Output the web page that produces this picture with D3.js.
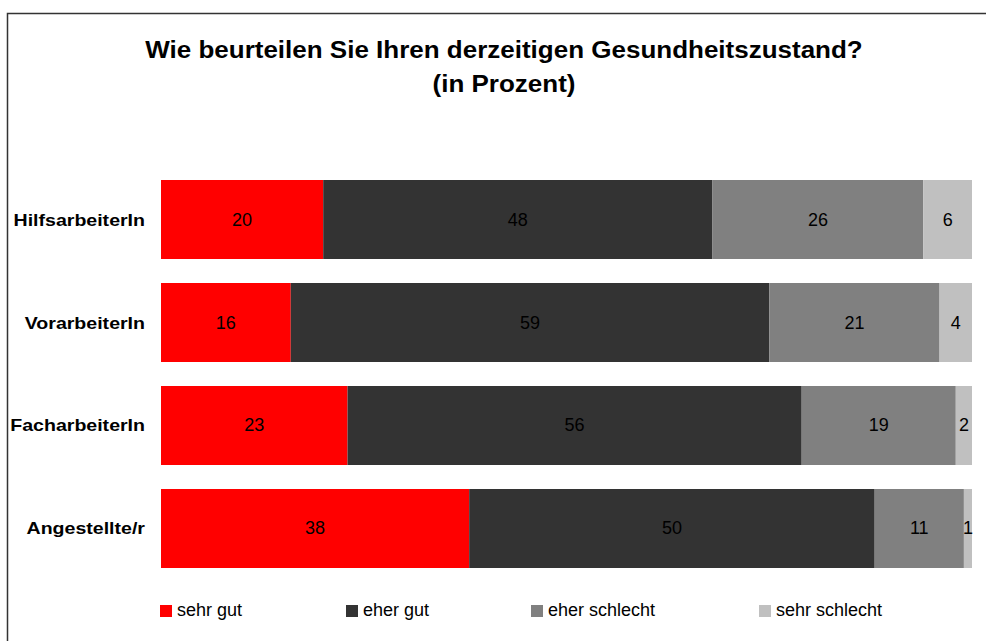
<!DOCTYPE html>
<html>
<head>
<meta charset="utf-8">
<script src="https://cdnjs.cloudflare.com/ajax/libs/d3/7.8.5/d3.min.js"></script>
<style>
  html, body { margin: 0; padding: 0; background: #fff; }
  svg { display: block; font-family: "Liberation Sans", Arial, sans-serif; }
</style>
</head>
<body>
<div id="chart"></div>
<script>
// Daten
const groups = ["HilfsarbeiterIn", "VorarbeiterIn", "FacharbeiterIn", "Angestellte/r"];
const seriesNames = ["sehr gut", "eher gut", "eher schlecht", "sehr schlecht"];
const sehrGut = [20, 16, 23, 38];
const eherGut = [48, 59, 56, 50];
const eherSchlecht = [26, 21, 19, 11];
const sehrSchlecht = [6, 4, 2, 1];
const colors = ["#ff0000", "#333333", "#808080", "#c0c0c0"];

const width = 986, height = 641;

const svg = d3.select("#chart").append("svg")
    .attr("width", width)
    .attr("height", height);

// Text etwas breiter ziehen (Vorlage ist horizontal gestreckt)
function stretch(sel, factor) {
    sel.each(function () {
        const len = this.getComputedTextLength();
        d3.select(this)
            .attr("textLength", len * factor)
            .attr("lengthAdjust", "spacingAndGlyphs");
    });
}

// Rahmen (rechts/unten außerhalb des Bildes)
svg.append("rect")
    .attr("x", 7.5).attr("y", 13.5)
    .attr("width", 1200).attr("height", 800)
    .attr("fill", "none")
    .attr("stroke", "#333")
    .attr("stroke-width", 1.5);

// Titel
const titleLines = ["Wie beurteilen Sie Ihren derzeitigen Gesundheitszustand?", "(in Prozent)"];
const titleText = svg.selectAll("text.title")
    .data(titleLines)
    .join("text")
    .attr("class", "title")
    .attr("x", 504)
    .attr("y", (d, i) => 58 + i * 34)
    .attr("text-anchor", "middle")
    .style("font-size", "23px")
    .style("font-weight", "bold")
    .text(d => d);
stretch(titleText, 1.13);

// Tabelle für stack
const table = groups.map((g, i) => ({
    group: g,
    "sehr gut": sehrGut[i],
    "eher gut": eherGut[i],
    "eher schlecht": eherSchlecht[i],
    "sehr schlecht": sehrSchlecht[i]
}));
const stacked = d3.stack().keys(seriesNames)(table);

const x = d3.scaleLinear().domain([0, 100]).range([161, 972]);
const y = d3.scaleBand().domain(groups).range([180, 568]).paddingInner(0.233).paddingOuter(0);
const color = d3.scaleOrdinal().domain(seriesNames).range(colors);

const layers = svg.selectAll("g.layer")
    .data(stacked)
    .join("g")
    .attr("class", "layer")
    .attr("fill", d => color(d.key));

layers.selectAll("rect")
    .data(d => d)
    .join("rect")
    .attr("x", d => x(d[0]))
    .attr("y", d => y(d.data.group))
    .attr("width", d => x(d[1]) - x(d[0]))
    .attr("height", y.bandwidth());

// Werte in den Balken
layers.selectAll("text")
    .data(d => d)
    .join("text")
    .attr("x", d => (x(d[0]) + x(d[1])) / 2)
    .attr("y", d => y(d.data.group) + y.bandwidth() / 2 + 6)
    .attr("text-anchor", "middle")
    .attr("fill", "#000")
    .style("font-size", "18px")
    .text(d => d[1] - d[0]);

// Kategorien links
const cats = svg.selectAll("text.cat")
    .data(groups)
    .join("text")
    .attr("class", "cat")
    .attr("x", 145)
    .attr("y", d => y(d) + y.bandwidth() / 2 + 6)
    .attr("text-anchor", "end")
    .style("font-size", "17px")
    .style("font-weight", "bold")
    .text(d => d);
stretch(cats, 1.15);

// Legende
const legendX = [160, 346, 531, 759];
const legend = svg.selectAll("g.legend")
    .data(seriesNames)
    .join("g")
    .attr("class", "legend")
    .attr("transform", (d, i) => `translate(${legendX[i]},605)`);
legend.append("rect")
    .attr("width", 12).attr("height", 12)
    .attr("fill", d => color(d));
legend.append("text")
    .attr("x", 17).attr("y", 11)
    .style("font-size", "18px")
    .text(d => d);
</script>
</body>
</html>
